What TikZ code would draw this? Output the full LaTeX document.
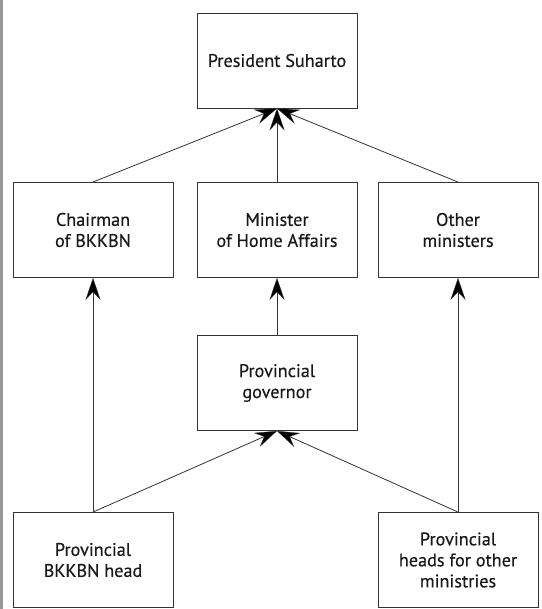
\documentclass[tikz,border=0pt]{standalone}
\usepackage{fontspec}
\newfontfamily\boxfont{PT Sans}[BoldFont={PT Sans}, BoldFeatures={FakeBold=0.35}]
\usetikzlibrary{arrows.meta}
\definecolor{ln}{HTML}{333333}
\tikzset{
  box/.style={draw=ln, line width=0.9pt, minimum width=160pt, minimum height=95pt,
    inner sep=0pt, align=center, font=\boxfont\bfseries\fontsize{18.2}{21}\selectfont, text=black!90},
  conn/.style={draw=ln, line width=0.8pt, -{Stealth[length=22pt,width=15pt,inset=8pt,fill=black,line width=0.3pt]}}
}
\begin{document}
\begin{tikzpicture}[x=1pt,y=-1pt]
\useasboundingbox (0,0) rectangle (541,609);
\fill[black!40] (0,0) rectangle (3,609);
\node[box] (pres) at (277,60.5) {President Suharto};
\node[box] (chair) at (93,230) {Chairman\\of BKKBN};
\node[box] (home) at (277,230) {Minister\\of Home Affairs};
\node[box] (other) at (458,230) {Other\\ministers};
\node[box] (gov) at (277,383) {Provincial\\governor};
\node[box] (bk) at (93,560) {Provincial\\BKKBN head};
\node[box] (heads) at (458,560) {Provincial\\heads for other\\ministries};
\draw[conn] (chair.north) -- (pres.south);
\draw[conn] (home.north) -- (pres.south);
\draw[conn] (other.north) -- (pres.south);
\draw[conn] (gov.north) -- (home.south);
\draw[conn] (bk.north) -- (chair.south);
\draw[conn] (bk.north) -- (gov.south);
\draw[conn] (heads.north) -- (gov.south);
\draw[conn] (heads.north) -- (other.south);
\end{tikzpicture}
\end{document}
